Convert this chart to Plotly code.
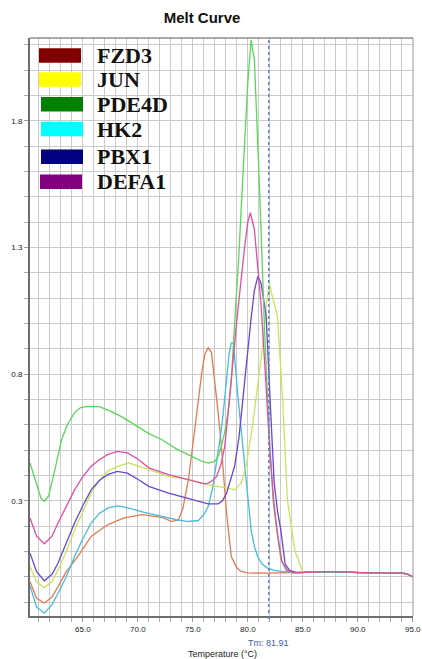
import plotly.graph_objects as go

# ---------------- data ----------------
SERIES_NAMES = ["FZD3", "JUN", "PDE4D", "HK2", "PBX1", "DEFA1"]
LEGEND_COLORS = ["#800000", "#ffff00", "#008000", "#00ffff", "#000080", "#800080"]
LINE_COLORS = ["#e27b53", "#c5e65a", "#5ad65a", "#45bde0", "#6a45d6", "#df4fa6"]

TAIL_T = [85.0, 86.0, 87.0, 88.0, 89.0, 90.0, 91.0, 92.0, 93.0, 94.0, 94.5, 95.0]
TAIL_V = [0.017, 0.019, 0.02, 0.02, 0.018, 0.016, 0.015, 0.015, 0.016, 0.015, 0.01, 0.0]

FZD3_T = [60.2, 60.8, 61.5, 62.2, 62.75, 63.5, 64.55, 65.76, 67.25, 68.76, 70.4, 72.2, 73.1, 73.7,
          74.1, 74.6, 75.0, 75.4, 75.8, 76.1, 76.4, 76.7, 77.0, 77.3, 77.6, 78.07, 78.5, 79.0, 79.4,
          80.0, 82.0, 84.0]
FZD3_V = [-0.02, -0.085, -0.104, -0.08, -0.039, 0.02, 0.08, 0.159, 0.205, 0.232, 0.245, 0.234, 0.218, 0.225,
          0.27, 0.383, 0.52, 0.66, 0.80, 0.88, 0.904, 0.885, 0.778, 0.65, 0.515, 0.251, 0.08, 0.035, 0.021,
          0.015, 0.014, 0.015]

JUN_T = [60.2, 60.8, 61.5, 62.2, 62.75, 63.5, 64.25, 65.0, 65.76, 66.5, 67.25, 68.15, 69.2, 71.0, 72.8,
         74.6, 76.4, 78.2, 78.8, 79.4, 79.87, 80.47, 80.9, 81.37, 81.7, 81.97, 82.3, 82.7, 83.17, 83.6,
         84.0, 84.3, 84.7]
JUN_V = [0.04, -0.02, -0.043, -0.02, 0.027, 0.10, 0.185, 0.26, 0.33, 0.38, 0.416, 0.436, 0.449, 0.423, 0.396,
         0.383, 0.363, 0.35, 0.343, 0.37, 0.44, 0.607, 0.765, 0.92, 1.08, 1.155, 1.094, 1.03, 0.70, 0.304,
         0.185, 0.10, 0.054]

PDE4D_T = [60.2, 60.8, 61.2, 61.5, 61.9, 62.5, 63.06, 63.6, 64.25, 64.8, 65.45, 66.5, 67.56, 68.6, 69.66,
           71.0, 72.2, 73.5, 74.9, 76.0, 76.4, 77.0, 77.3, 77.6, 77.9, 78.2, 78.5, 78.82, 79.2, 79.57,
           80.0, 80.3, 80.6, 81.07, 81.52, 81.9, 82.3, 82.64, 83.0, 83.5, 84.0]
PDE4D_V = [0.449, 0.37, 0.31, 0.297, 0.32, 0.43, 0.54, 0.60, 0.648, 0.668, 0.673, 0.672, 0.653, 0.63, 0.60,
           0.565, 0.541, 0.505, 0.475, 0.453, 0.449, 0.455, 0.475, 0.515, 0.57, 0.648, 0.78, 0.989, 1.28, 1.595,
           1.95, 2.12, 2.04, 1.53, 0.98, 0.6, 0.3, 0.185, 0.07, 0.025, 0.015]

HK2_T = [60.2, 60.8, 61.5, 62.2, 62.75, 63.5, 64.25, 65.0, 65.76, 66.5, 67.25, 68.15, 69.2, 70.5, 72.2,
         73.5, 74.6, 75.5, 76.0, 76.4, 76.8, 77.17, 77.5, 77.77, 78.07, 78.3, 78.5, 78.7, 79.1, 79.4,
         79.7, 80.0, 80.3, 80.6, 80.9, 81.3, 81.8, 82.4, 83.0, 84.0]
HK2_V = [-0.035, -0.12, -0.144, -0.11, -0.065, 0.0, 0.08, 0.15, 0.212, 0.25, 0.271, 0.28, 0.271, 0.255, 0.238,
         0.225, 0.218, 0.222, 0.245, 0.277, 0.35, 0.449, 0.55, 0.647, 0.778, 0.88, 0.923, 0.92, 0.712, 0.58,
         0.449, 0.31, 0.185, 0.12, 0.08, 0.05, 0.034, 0.025, 0.021, 0.018]

PBX1_T = [60.2, 60.8, 61.5, 62.2, 62.75, 63.5, 64.25, 65.0, 65.76, 66.5, 67.25, 68.15, 69.06, 70.0, 71.0,
          72.8, 74.6, 76.4, 77.3, 77.7, 78.07, 78.8, 79.2, 79.57, 80.0, 80.3, 80.6, 80.92, 81.2, 81.67,
          82.1, 82.4, 82.7, 83.0, 83.4, 83.8, 84.5]
PBX1_V = [0.093, 0.02, -0.016, 0.01, 0.054, 0.13, 0.212, 0.28, 0.343, 0.38, 0.403, 0.416, 0.409, 0.385, 0.357,
          0.33, 0.31, 0.288, 0.288, 0.30, 0.33, 0.436, 0.55, 0.712, 0.9, 1.02, 1.13, 1.187, 1.16, 1.03,
          0.633, 0.37, 0.26, 0.185, 0.05, 0.025, 0.015]

DEFA1_T = [60.2, 60.8, 61.5, 62.2, 62.75, 63.5, 64.25, 65.0, 65.76, 66.5, 67.25, 68.15, 69.06, 70.0, 71.0,
           72.8, 74.6, 75.5, 76.1, 76.4, 76.8, 77.17, 77.6, 77.9, 78.37, 78.97, 79.35, 79.72, 80.0, 80.23,
           80.6, 81.2, 81.6, 82.0, 82.4, 82.7, 83.1, 83.6, 84.2]
DEFA1_V = [0.232, 0.16, 0.13, 0.16, 0.212, 0.28, 0.343, 0.395, 0.436, 0.462, 0.482, 0.495, 0.489, 0.465, 0.43,
           0.403, 0.383, 0.375, 0.367, 0.37, 0.38, 0.396, 0.449, 0.515, 0.712, 1.0, 1.16, 1.305, 1.40, 1.437,
           1.371, 1.08, 0.8, 0.5, 0.28, 0.17, 0.06, 0.025, 0.015]

TM_VALUE = 81.91
X_TICKS = [65.0, 70.0, 75.0, 80.0, 85.0, 90.0, 95.0]
Y_TICKS = [0.3, 0.8, 1.3, 1.8]

SERIES_T = [FZD3_T, JUN_T, PDE4D_T, HK2_T, PBX1_T, DEFA1_T]
SERIES_V = [FZD3_V, JUN_V, PDE4D_V, HK2_V, PBX1_V, DEFA1_V]

# ---------------- layout geometry (pixels) ----------------
W, H = 422, 659
L, R, T, B = 30, 9, 38, 43
PW, PH = W - L - R, H - T - B


def px_x(px):
    return (px - L) / PW


def px_y(py):
    return (H - B - py) / PH


fig = go.Figure()
draw_order = [0, 3, 1, 4, 2, 5]
for i in draw_order:
    fig.add_trace(go.Scatter(
        x=SERIES_T[i] + TAIL_T, y=SERIES_V[i] + TAIL_V, mode="lines", name=SERIES_NAMES[i],
        line=dict(color=LINE_COLORS[i], width=1.3), showlegend=False))

grid_c = "#cbcbcb"
tick_font = dict(family="Liberation Sans, Arial, sans-serif", size=8, color="#222222")

fig.update_layout(
    width=W, height=H,
    margin=dict(l=L, r=R, t=T, b=B, autoexpand=False),
    paper_bgcolor="white", plot_bgcolor="white",
    title=dict(text="<b>Melt Curve</b>", x=202 / W, xanchor="center", y=1 - 18 / H, yanchor="middle",
               font=dict(family="Liberation Sans, Arial, sans-serif", size=15, color="#111111")),
    xaxis=dict(range=[60.2, 95.02], tickmode="array", tickvals=X_TICKS,
               ticktext=[f"{v:.1f}" for v in X_TICKS], tickfont=tick_font,
               ticklabeloverflow="allow", automargin=False,
               showgrid=True, gridcolor=grid_c, gridwidth=1, zeroline=False,
               showline=True, linecolor="#6e6e6e", linewidth=2,
               ticks="outside", ticklen=4, tickcolor="#999999",
               minor=dict(dtick=1, tick0=60, showgrid=True, gridcolor=grid_c, gridwidth=1,
                          ticks="outside", ticklen=4, tickcolor="#aaaaaa")),
    yaxis=dict(range=[-0.155, 2.127], tickmode="array", tickvals=Y_TICKS,
               ticktext=[f"{v:.1f}" for v in Y_TICKS], tickfont=tick_font, automargin=False,
               showgrid=True, gridcolor=grid_c, gridwidth=1, zeroline=False,
               showline=True, linecolor="#6e6e6e", linewidth=2,
               ticks="outside", ticklen=4, tickcolor="#999999",
               minor=dict(dtick=0.1, tick0=0.3, showgrid=True, gridcolor=grid_c, gridwidth=1,
                          ticks="outside", ticklen=4, tickcolor="#aaaaaa")),
)

shapes = []
# top and right border
shapes.append(dict(type="line", xref="paper", yref="paper", x0=0, x1=1, y0=1, y1=1,
                   line=dict(color="#555555", width=1)))
shapes.append(dict(type="line", xref="paper", yref="paper", x0=1, x1=1, y0=0, y1=1,
                   line=dict(color="#999999", width=1)))
# Tm line
shapes.append(dict(type="line", xref="x", yref="paper", x0=TM_VALUE, x1=TM_VALUE, y0=-0.005, y1=1,
                   line=dict(color="#5f82c4", width=1.5, dash="dot")))

annotations = []
leg_rows_y = [55.5, 79.5, 104.2, 129.0, 156.7, 181.8]
leg_box_x = [(39, 81), (39, 81), (41, 83), (41, 83), (41, 83), (40, 82)]
for k, name in enumerate(SERIES_NAMES):
    cy = leg_rows_y[k]
    x0, x1 = leg_box_x[k]
    shapes.append(dict(type="rect", xref="paper", yref="paper",
                       x0=px_x(x0), x1=px_x(x1), y0=px_y(cy - 7.2), y1=px_y(cy + 7.2),
                       fillcolor=LEGEND_COLORS[k], line=dict(width=0), layer="above"))
    annotations.append(dict(text=f"<b>{name}</b>", xref="paper", yref="paper",
                            x=px_x(95), y=px_y(cy), xanchor="left", yanchor="middle", showarrow=False,
                            font=dict(family="Liberation Serif, Times New Roman, serif", size=22,
                                      color="#111111")))

annotations.append(dict(text=f"Tm: {TM_VALUE:.2f}", xref="x", yref="paper", x=TM_VALUE, y=px_y(643),
                        xanchor="center", yanchor="middle", showarrow=False,
                        font=dict(family="Liberation Sans, Arial, sans-serif", size=9, color="#3a62a8")))
annotations.append(dict(text="Temperature (°C)", xref="paper", yref="paper", x=px_x(222.5), y=px_y(654),
                        xanchor="center", yanchor="middle", showarrow=False,
                        font=dict(family="Liberation Sans, Arial, sans-serif", size=9, color="#222222")))

fig.update_layout(shapes=shapes, annotations=annotations)
fig.write_html("out.html")
